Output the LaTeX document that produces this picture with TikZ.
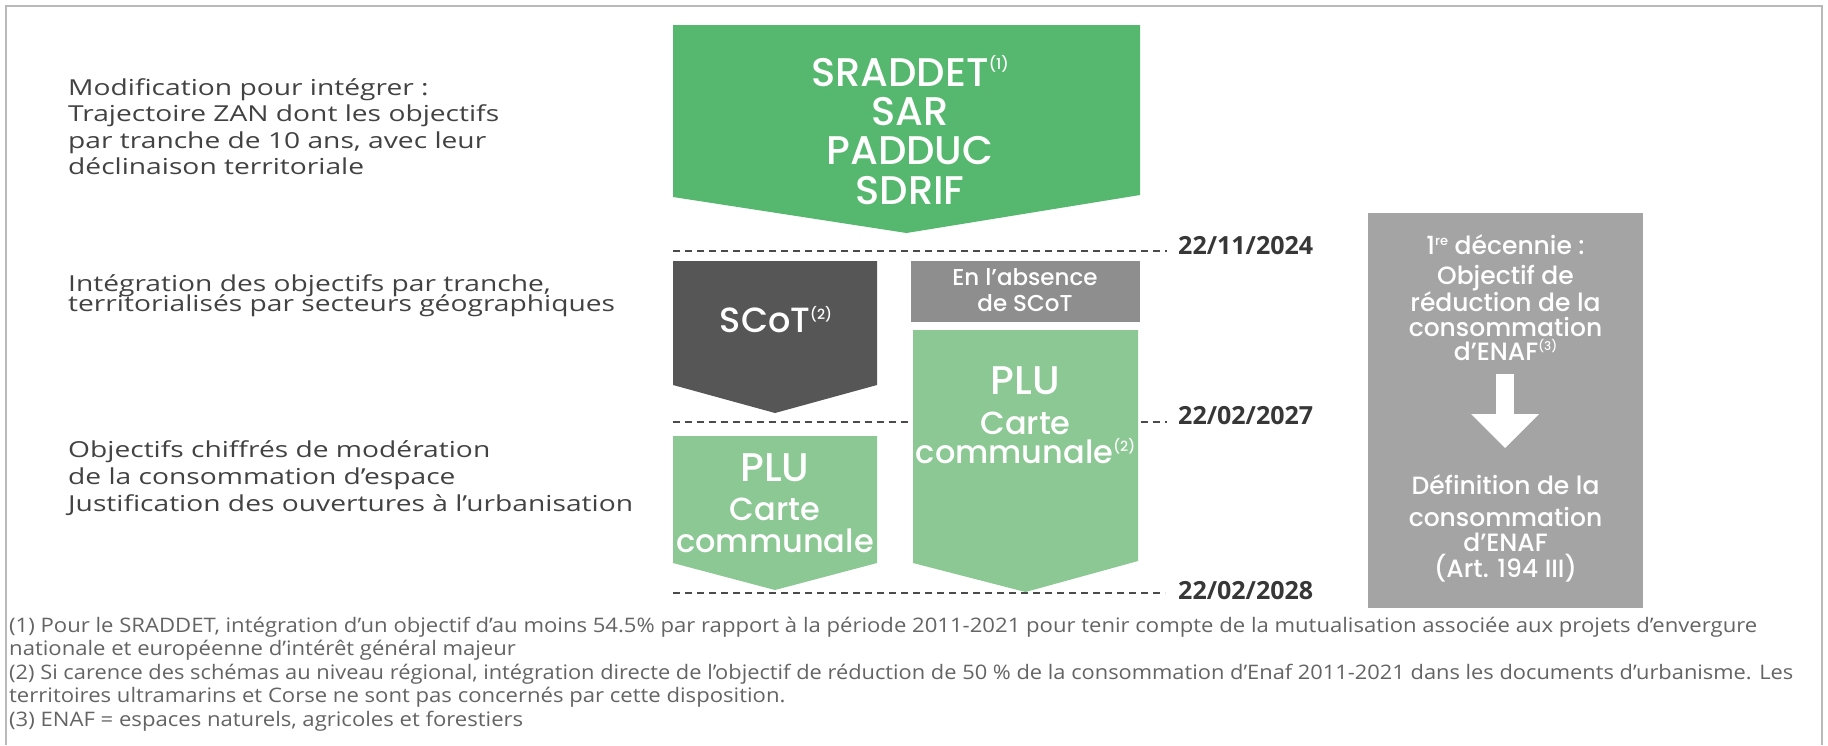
\documentclass[tikz,border=0pt]{standalone}
\usepackage{fontspec}
\usepackage{graphicx}
\setmainfont{Open Sans}
\newfontfamily\osans{Open Sans}
\IfFontExistsTF{Poppins Medium}{\newfontfamily\boxfont{Poppins Medium}}{\newfontfamily\boxfont{Poppins}}
\definecolor{gsrad}{RGB}{86,184,111}
\definecolor{gplu}{RGB}{139,200,147}
\definecolor{dscot}{RGB}{86,86,86}
\definecolor{mabs}{RGB}{142,142,142}
\definecolor{lbox}{RGB}{164,164,164}
\definecolor{txtc}{RGB}{66,66,66}
\definecolor{datec}{RGB}{55,55,55}
\definecolor{fnc}{RGB}{100,100,100}
\definecolor{dashc}{RGB}{75,75,75}
\definecolor{framec}{RGB}{185,185,185}
\newlength\fitlen
\newcommand\sups[3]{\raisebox{#1pt}{\fontsize{#2}{#2}\selectfont #3}}
\newcommand\LS[1]{\scalebox{\lfac}[1]{#1}}
\newcommand\FS[1]{\scalebox{\ffac}[1]{#1}}
\newcommand\FT[1]{\scalebox{\gfac}[1]{#1}}
\newcommand\DS[1]{\scalebox{\dfac}[1]{#1}}
\newcommand\fnone{(1) Pour le SRADDET, intégration d’un objectif d’au moins 54.5\% par rapport à la période 2011-2021 pour tenir compte de la mutualisation associée aux projets d’envergure}
\newcommand\fnthree{(2) Si carence des schémas au niveau régional, intégration directe de l’objectif de réduction de 50 \% de la consommation d’Enaf 2011-2021 dans les documents d’urbanisme. Les}
\tikzset{
  lt/.style={anchor=base west, inner sep=0pt, text=txtc, font=\osans\fontsize{22}{26}\selectfont},
  fnl/.style={anchor=base west, inner sep=0pt, text=fnc, font=\osans\fontsize{20}{24}\selectfont},
  dt/.style={anchor=base west, inner sep=0pt, text=datec, font=\osans\bfseries\fontsize{25}{30}\selectfont},
  wl/.style={anchor=base, inner sep=0pt, text=white},
  big/.style={wl, font=\boxfont\fontsize{40}{40}\selectfont},
  mid/.style={wl, font=\boxfont\fontsize{32}{32}\selectfont},
  sml/.style={wl, font=\boxfont\fontsize{23}{23}\selectfont},
  rbx/.style={wl, font=\boxfont\fontsize{25}{25}\selectfont},
  dl/.style={draw=dashc, line width=1.5pt, dash pattern=on 7pt off 5pt},
}
\begin{document}
% width calibration (done outside the picture, where fonts are active)
\settowidth\fitlen{\osans\fontsize{22}{26}\selectfont Trajectoire ZAN dont les objectifs}%
\pgfmathsetmacro\lfac{431/\fitlen}%
\settowidth\fitlen{\osans\fontsize{20}{24}\selectfont \fnone}%
\pgfmathsetmacro\ffac{1748/\fitlen}%
\settowidth\fitlen{\osans\fontsize{20}{24}\selectfont \fnthree}%
\pgfmathsetmacro\gfac{1784/\fitlen}%
\settowidth\fitlen{\osans\bfseries\fontsize{25}{30}\selectfont 22/11/2024}%
\pgfmathsetmacro\dfac{135/\fitlen}%
\begin{tikzpicture}[x=1pt,y=-1pt]
\useasboundingbox (0,0) rectangle (1828,745);
\fill[white] (0,0) rectangle (1828,745);
\draw[framec, line width=2pt] (6,745) -- (6,6) -- (1822,6) -- (1822,745);

% dashed time lines
\coordinate (L1a) at (673,251); \coordinate (L1b) at (1167,251);
\coordinate (L2a) at (673,422); \coordinate (L2b) at (1167,422);
\coordinate (L3a) at (673,593); \coordinate (L3b) at (1165,593);
\draw[dl] (L1a) -- (L1b);
\draw[dl] (L2a) -- (L2b);
\draw[dl] (L3a) -- (L3b);

% left texts
\node[lt] (t1a) at (68,95) {\LS{Modification pour intégrer :}};
\node[lt] (t1b) at (68,121.5) {\LS{Trajectoire ZAN dont les objectifs}};
\node[lt] (t1c) at (68,148) {\LS{par tranche de 10 ans, avec leur}};
\node[lt] (t1d) at (68,174.5) {\LS{déclinaison territoriale}};
\node[lt] (t2a) at (68,291) {\LS{Intégration des objectifs par tranche,}};
\node[lt] (t2b) at (68,311) {\LS{territorialisés par secteurs géographiques}};
\node[lt] (t3a) at (68,457) {\LS{Objectifs chiffrés de modération}};
\node[lt] (t3b) at (68,484) {\LS{de la consommation d’espace}};
\node[lt] (t3c) at (68,511) {\LS{Justification des ouvertures à l’urbanisation}};

% SRADDET box
\fill[gsrad] (673,25) -- (1140,25) -- (1140,195) -- (906.5,233) -- (673,197) -- cycle;
\node[big] (sr1) at (910,86) {SRADDET\sups{17}{15}{(1)}};
\node[big] (sr2) at (910,125) {SAR};
\node[big] (sr3) at (910,164) {PADDUC};
\node[big] (sr4) at (910,204) {SDRIF};

% SCoT box
\fill[dscot] (673,261) -- (877,261) -- (877,385) -- (775,413) -- (673,385) -- cycle;
\node[wl, font=\boxfont\fontsize{35}{35}\selectfont] (scot) at (776,332) {SCoT\sups{13}{14}{(2)}};

% absence box
\fill[mabs] (911,261) rectangle (1140,322);
\node[sml] (ab1) at (1025,285) {En l’absence};
\node[sml] (ab2) at (1025,311) {de SCoT};

% big PLU box
\fill[gplu] (913,330) -- (1138,330) -- (1138,561) -- (1025.5,592) -- (913,563) -- cycle;
\node[big] (pb1) at (1025.5,394) {PLU};
\node[mid] (pb2) at (1025.5,434) {Carte};
\node[mid] (pb3) at (1025.5,463) {communale\sups{12}{14}{(2)}};

% lower PLU box
\fill[gplu] (673,436) -- (877,436) -- (877,563) -- (775,590) -- (673,563) -- cycle;
\node[big] (pl1) at (775,481) {PLU};
\node[mid] (pl2) at (775,520) {Carte};
\node[mid] (pl3) at (775,552) {communale};

% dates
\node[dt] (d1) at (1178,254) {\DS{22/11/2024}};
\node[dt] (d2) at (1178,424) {\DS{22/02/2027}};
\node[dt] (d3) at (1178,599) {\DS{22/02/2028}};

% right grey box
\fill[lbox] (1368,213) rectangle (1643,608);
\node[rbx] (r1) at (1505.5,254) {1\sups{9}{13}{re} décennie :};
\node[rbx] (r2) at (1505.5,284) {Objectif de};
\node[rbx] (r3) at (1505.5,311) {réduction de la};
\node[rbx] (r4) at (1505.5,336) {consommation};
\node[rbx] (r5) at (1505.5,360) {d’ENAF\sups{10}{12}{(3)}};
\fill[white] (1496,374) rectangle (1514,414);
\fill[white] (1471,414) -- (1539,414) -- (1505,448) -- cycle;
\node[rbx] (r6) at (1505.5,494) {Définition de la};
\node[rbx] (r7) at (1505.5,526) {consommation};
\node[rbx] (r8) at (1505.5,551) {d’ENAF};
\node[rbx] (r9) at (1505.5,577) {(Art. 194 III)};

% footnotes
\node[fnl] (f1) at (9,632) {\FS{\fnone}};
\node[fnl] (f2) at (9,655.5) {\FS{nationale et européenne d’intérêt général majeur}};
\node[fnl] (f3) at (9,679) {\FT{\fnthree}};
\node[fnl] (f4) at (9,702.5) {\FS{territoires ultramarins et Corse ne sont pas concernés par cette disposition.}};
\node[fnl] (f5) at (9,726) {\FS{(3) ENAF = espaces naturels, agricoles et forestiers}};
\end{tikzpicture}
\end{document}
